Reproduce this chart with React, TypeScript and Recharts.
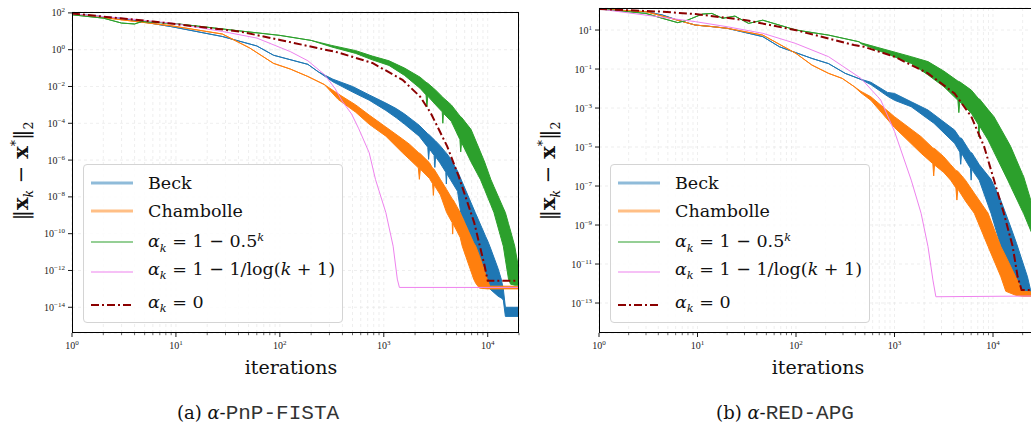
import React from 'react';
import { ComposedChart, Line, Area, XAxis, YAxis, CartesianGrid } from 'recharts';

// ---- tick values ----
const xDecades = [1, 10, 100, 1000, 10000];
const minorMult = [2, 3, 4, 5, 6, 7, 8, 9];
const yTicksLeft = [1e2, 1, 1e-2, 1e-4, 1e-6, 1e-8, 1e-10, 1e-12, 1e-14];
const yTicksRight = [1e1, 1e-1, 1e-3, 1e-5, 1e-7, 1e-9, 1e-11, 1e-13];

// ---- (a) alpha-PnP-FISTA : bands are [k, upper, lower], lines are [k, value] ----
const beckLeft = [
  [1, 89, 89], [3, 51, 51], [9, 18, 18], [28, 5.2, 5.2], [60, 1.6, 1.6], [87, 0.5, 0.5],
  [117, 0.32, 0.32], [186, 0.16, 0.16], [234, 0.063, 0.063], [324, 0.025, 0.018],
  [501, 1e-2, 5e-3], [724, 3.5e-3, 1.8e-3], [1047, 1.26e-3, 5e-4], [1318, 6.3e-4, 2e-4],
  [1585, 3.2e-4, 8.9e-5], [2188, 7.9e-5, 2e-5], [2650, 2.7e-5, 5e-6], [2700, 2.5e-5, 1.1e-6],
  [2750, 2.3e-5, 4e-6], [3050, 1.3e-5, 1.8e-6], [3100, 1.2e-5, 4e-7], [3150, 1.1e-5, 1.5e-6],
  [3467, 6.3e-6, 7.1e-7], [3950, 2.6e-6, 2.2e-7], [4000, 2.4e-6, 5e-8], [4050, 2.2e-6, 1.8e-7],
  [4365, 1.26e-6, 8.9e-8], [5129, 2.5e-7, 2e-8], [5495, 1e-7, 1.4e-9], [7586, 1.4e-9, 2.1e-11],
  [9550, 7.1e-11, 3.4e-13], [10000, 4e-11, 1.6e-13], [10471, 2.1e-11, 1e-13], [12589, 1.26e-12, 4e-14],
  [13490, 3.4e-13, 3.2e-14], [14125, 1e-13, 2.5e-14], [14791, 1e-14, 3.2e-15], [20000, 1e-14, 3.2e-15],
];
const chambLeft = [
  [1, 89, 89], [9, 20, 20], [28, 7.1, 7.1], [51, 1.26, 1.26], [87, 0.18, 0.18], [126, 0.089, 0.089],
  [186, 0.035, 0.035], [269, 0.0126, 0.0126], [363, 4e-3, 2e-3], [537, 1e-3, 4e-4],
  [724, 2.8e-4, 8.9e-5], [1047, 6.3e-5, 2e-5], [1514, 1.4e-5, 2.5e-6], [1778, 7.1e-6, 1.07e-6],
  [2150, 2.6e-6, 3.8e-7], [2200, 2.4e-6, 9e-8], [2250, 2.2e-6, 3.2e-7], [2754, 7.1e-7, 1e-7],
  [2950, 3.6e-7, 5.2e-8], [3000, 3.4e-7, 1.2e-8], [3050, 3.2e-7, 4.5e-8], [3508, 8.9e-8, 1.26e-8],
  [4027, 2.5e-8, 1.4e-9], [4550, 7.8e-9, 4e-10], [4600, 7.4e-9, 9.5e-11], [4650, 7e-9, 3.5e-10],
  [5433, 1.4e-9, 6.3e-11], [5689, 7.9e-10, 2.1e-11], [7328, 3.2e-11, 3.4e-13], [7674, 2.1e-11, 2e-13],
  [8318, 6.3e-12, 1.1e-13], [9886, 3.4e-13, 1e-13], [10471, 1.4e-13, 1e-13], [20000, 1.4e-13, 1e-13],
];
const greenLeft = [
  [1, 79, 79], [2, 52, 52], [3, 28, 28], [4, 25, 25], [4.7, 34, 34], [10, 26, 26], [41, 10.5, 10.5],
  [100, 6, 6], [200, 3.2, 3.2], [316, 1.7, 1.4], [537, 0.89, 0.63], [776, 0.45, 0.28],
  [1122, 0.25, 0.14], [1585, 0.1, 0.04], [2239, 0.032, 7.9e-3], [2550, 0.017, 3.5e-3],
  [2600, 0.016, 8e-4], [2650, 0.015, 3e-3], [3162, 6.3e-3, 1e-3], [3650, 2.8e-3, 4.2e-4],
  [3700, 2.6e-3, 1e-4], [3750, 2.4e-3, 3.5e-4], [4467, 1e-3, 1.26e-4], [5400, 2.5e-4, 1.3e-5],
  [5500, 2.3e-4, 2.8e-6], [5600, 2.1e-4, 9e-6], [6918, 4.6e-5, 7.9e-7], [8511, 2.8e-6, 8.9e-8],
  [9333, 7.9e-7, 2.5e-8], [10715, 8.9e-8, 3.7e-9], [11482, 3.6e-8, 1.4e-9], [14125, 2.5e-9, 2.1e-11],
  [14791, 1.4e-9, 4e-12], [15849, 3.5e-10, 3.4e-13], [16596, 1.4e-10, 1.8e-13], [18197, 2.1e-11, 1.6e-13],
  [20000, 1e-12, 1.6e-13],
];
const logLeft = [
  [1, 89], [3, 52], [9, 28], [28, 9.8], [60, 4.3], [126, 0.79], [186, 0.25], [269, 0.044],
  [339, 7.9e-3], [398, 1.6e-3], [490, 3.2e-4], [575, 5e-5], [724, 2.5e-6], [832, 8.9e-8],
  [1047, 1.4e-9], [1230, 2.1e-11], [1349, 3.4e-13], [1413, 1.2e-13], [20000, 1.2e-13],
];
const zeroLeft = [
  [1, 93], [6, 34], [41, 9.8], [100, 3.4], [363, 0.71], [776, 0.19], [1514, 0.023], [2239, 2.8e-3],
  [2818, 3.8e-4], [4074, 5.6e-6], [5248, 1.35e-7], [7413, 4e-10], [9333, 1.8e-12],
  [10000, 2.75e-13], [20000, 2.75e-13],
];

// ---- (b) alpha-RED-APG ----
const beckRight = [
  [1, 120, 120], [3, 87, 87], [4.4, 59, 59], [6.3, 32, 32], [9.5, 18, 18], [14, 15, 15],
  [20, 12.3, 12.3], [46, 4.6, 4.6], [68, 1.38, 1.38], [145, 0.35, 0.35], [214, 0.19, 0.19],
  [316, 0.06, 0.06], [437, 0.032, 0.032], [575, 0.021, 0.016], [851, 6.3e-3, 4e-3],
  [1000, 5.6e-3, 2.5e-3], [1479, 2.1e-3, 1.17e-3], [2188, 7.9e-4, 2.75e-4], [2512, 4.7e-4, 1.66e-4],
  [4074, 7.4e-5, 1.55e-5], [4600, 3e-5, 5.5e-6], [4700, 2.9e-5, 1.3e-6], [4800, 2.8e-5, 4.8e-6],
  [5495, 9.5e-6, 1.45e-6], [5900, 5.4e-6, 8.2e-7], [6000, 5.2e-6, 2e-7], [6100, 5e-6, 7.4e-7],
  [6457, 3.2e-6, 4.6e-7], [7244, 1.26e-6, 2e-7], [9550, 2.2e-7, 4e-9], [12023, 1.8e-8, 7.9e-11],
  [15136, 7.9e-10, 2.2e-12], [17378, 1.1e-10, 3.2e-13], [22387, 2.2e-12, 2.8e-13],
  [23988, 5e-13, 2.5e-13], [30000, 5e-13, 2.5e-13],
];
const chambRight = [
  [1, 120, 120], [3, 87, 87], [6.3, 32, 32], [9.5, 18, 18], [14, 15, 15], [20, 12.3, 12.3],
  [46, 5.5, 5.5], [100, 0.63, 0.63], [145, 0.16, 0.16], [214, 0.06, 0.06], [295, 0.033, 0.033],
  [389, 0.0126, 0.0126], [457, 7.1e-3, 6e-3], [575, 3.8e-3, 2.5e-3], [1000, 3.6e-4, 1e-4],
  [1862, 3.4e-5, 4.8e-6], [2450, 9e-6, 1.4e-6], [2500, 8.7e-6, 3.3e-7], [2550, 8.4e-6, 1.2e-6],
  [3162, 3.2e-6, 5e-7], [3715, 1.26e-6, 2e-7], [4200, 6.3e-7, 8e-8], [4300, 6e-7, 1.9e-8],
  [4400, 5.7e-7, 7e-8], [5248, 2e-7, 1.7e-8], [6457, 4.3e-8, 4e-9], [8913, 4e-9, 7.9e-11],
  [12023, 7.9e-11, 2.2e-12], [13490, 2.5e-11, 4e-13], [16982, 2.2e-12, 2.5e-13],
  [19953, 4e-13, 2.2e-13], [30000, 3.5e-13, 2.2e-13],
];
const greenRight = [
  [1, 120, 120], [3, 71, 71], [4.4, 40, 40], [6.3, 24, 24], [7.9, 32, 32], [11.2, 66, 66],
  [14, 71, 71], [18, 40, 40], [24, 52, 52], [33, 22, 22], [46, 32, 32], [100, 10, 10],
  [214, 5.5, 5.5], [437, 2.5, 2.5], [457, 2.2, 2.0], [1479, 0.43, 0.195], [2188, 0.24, 0.05],
  [3162, 0.079, 0.0126], [4400, 0.024, 2.5e-3], [4500, 0.023, 5.8e-4], [4600, 0.022, 2.1e-3],
  [6026, 8.3e-3, 5.4e-4], [7100, 3.1e-3, 1.4e-4], [7200, 3e-3, 3.3e-5], [7300, 2.9e-3, 1.2e-4],
  [8913, 8.3e-4, 2.3e-5], [10233, 3.6e-4, 5.5e-6], [14125, 2e-5, 2e-7], [15136, 1.05e-5, 9.5e-8],
  [19953, 4e-7, 5e-9], [20417, 3.2e-7, 4e-9], [25119, 1e-8, 3.2e-10], [30000, 5e-10, 1.6e-11],
];
const logRight = [
  [1, 120], [9.5, 27], [20, 14.8], [46, 6.8], [98, 2.1], [214, 0.43], [457, 0.033], [676, 3.8e-3],
  [724, 2.6e-3], [1000, 6.3e-5], [1479, 2e-7], [1862, 4e-9], [2188, 7.9e-11], [2455, 1.5e-12],
  [2630, 2.1e-13], [30000, 2.3e-13],
];
const zeroRight = [
  [1, 120], [4.4, 87], [9.5, 66], [31, 32], [98, 10], [389, 1.7], [490, 1.38], [1000, 0.43],
  [2188, 0.06], [4074, 5.6e-3], [6026, 3.6e-4], [8128, 1.05e-5], [10000, 3e-7], [12882, 4e-9],
  [15849, 7.9e-11], [17783, 2.2e-12], [19498, 4.7e-13], [30000, 4.7e-13],
];

const BLUE = '#1f77b4';
const ORANGE = '#ff7f0e';
const GREEN = '#2ca02c';
const PINK = '#ee82ee';
const DARKRED = '#8b0000';
const SERIF = '"DejaVu Serif", serif';

const band = (rows: number[][]) => rows.map(([k, hi, lo]) => ({ k, hi, lo }));
const line = (rows: number[][]) => rows.map(([k, v]) => ({ k, v }));
const range = (d: any) => [d.lo, d.hi];

const supExp = (v: number) => {
  const e = Math.round(Math.log10(v));
  return e < 0 ? `\u2212${-e}` : `${e}`;
};
const isDecade = (v: number) => Math.abs(Math.log10(v) - Math.round(Math.log10(v))) < 1e-9;

const XTick = (props: any) => {
  const { x, y, payload } = props;
  const major = isDecade(payload.value);
  return (
    <g>
      <line x1={x} x2={x} y1={y} y2={y + (major ? 4 : 2.2)} stroke="#000" strokeWidth={major ? 0.9 : 0.6} />
      {major && (
        <text x={x} y={y + 16} textAnchor="middle" fontFamily='"Liberation Serif", serif' fontSize={10} fill="#222">
          10<tspan dy={-4} fontSize={7}>{supExp(payload.value)}</tspan>
        </text>
      )}
    </g>
  );
};

const YTick = (props: any) => {
  const { x, y, payload } = props;
  return (
    <g>
      <line x1={x - 4} x2={x} y1={y} y2={y} stroke="#000" strokeWidth={0.9} />
      <text x={x - 7} y={y + 3.5} textAnchor="end" fontFamily='"Liberation Serif", serif' fontSize={10} fill="#222">
        10<tspan dy={-4} fontSize={7}>{supExp(payload.value)}</tspan>
      </text>
    </g>
  );
};

const LegendBox = ({ left }: { left: number }) => {
  const rows = [
    { y: 18, color: '#8fbbd9', w: 3, dash: undefined, label: <span>Beck</span> },
    { y: 46, color: '#ffbf86', w: 3, dash: undefined, label: <span>Chambolle</span> },
    {
      y: 77, color: GREEN, w: 1.2, dash: undefined,
      label: <span><i>α</i><sub style={{ fontSize: '0.65em' }}><i>k</i></sub> = 1 − 0.5<sup style={{ fontSize: '0.65em' }}><i>k</i></sup></span>,
    },
    {
      y: 107, color: PINK, w: 1.2, dash: undefined,
      label: <span><i>α</i><sub style={{ fontSize: '0.65em' }}><i>k</i></sub> = 1 − 1/log(<i>k</i> + 1)</span>,
    },
    {
      y: 140, color: DARKRED, w: 2, dash: '8 3 2 3',
      label: <span><i>α</i><sub style={{ fontSize: '0.65em' }}><i>k</i></sub> = 0</span>,
    },
  ];
  return (
    <div style={{
      position: 'absolute', left, top: 164, width: 260, height: 159, boxSizing: 'border-box',
      border: '1px solid #d4d4d4', borderRadius: 4, background: 'rgba(255,255,255,0.85)',
    }}>
      {rows.map((r, i) => (
        <div key={i} style={{ position: 'absolute', left: 0, top: r.y, width: 258, height: 0 }}>
          <svg width={44} height={6} style={{ position: 'absolute', left: 6, top: -3 }}>
            <line x1={1} x2={43} y1={3} y2={3} stroke={r.color} strokeWidth={r.w} strokeDasharray={r.dash} />
          </svg>
          <div style={{
            position: 'absolute', left: 64, top: 0, transform: 'translateY(-50%)', whiteSpace: 'nowrap',
            fontFamily: SERIF, fontSize: 17.5, color: '#111', lineHeight: '22px',
          }}>{r.label}</div>
        </div>
      ))}
    </div>
  );
};

type PanelProps = {
  left: number;
  width: number;
  yAxisWidth: number;
  top: number;
  xMax: number;
  yDomain: [number, number];
  yTicks: number[];
  beck: number[][];
  chamb: number[][];
  green: number[][];
  log: number[][];
  zero: number[][];
};

const Panel = (p: PanelProps) => {
  const xTicks: number[] = [];
  xDecades.forEach((d) => {
    xTicks.push(d);
    minorMult.forEach((m) => {
      if (d * m <= p.xMax) xTicks.push(d * m);
    });
  });
  const plotW = p.width - p.yAxisWidth - 1;
  return (
    <div style={{ position: 'absolute', left: p.left, top: 0 }}>
      <ComposedChart width={p.width} height={428} margin={{ top: p.top, right: 1, bottom: 65, left: 0 }}>
        <CartesianGrid stroke="#e6e6e6" strokeDasharray="3 3" strokeWidth={0.7} />
        <XAxis
          type="number" dataKey="k" scale="log" domain={[1, p.xMax]} allowDataOverflow
          ticks={xTicks} interval={0} tickSize={0} tickMargin={0} axisLine={false} height={30}
          tick={(t: any) => <XTick {...t} />}
        />
        <YAxis
          type="number" scale="log" domain={p.yDomain} allowDataOverflow width={p.yAxisWidth}
          ticks={p.yTicks} interval={0} tickSize={0} tickMargin={0} axisLine={false}
          tick={(t: any) => <YTick {...t} />}
        />
        <Area data={band(p.beck)} dataKey={range} type="linear" stroke={BLUE} strokeWidth={1} fill={BLUE} fillOpacity={1} isAnimationActive={false} dot={false} activeDot={false} />
        <Area data={band(p.chamb)} dataKey={range} type="linear" stroke={ORANGE} strokeWidth={1} fill={ORANGE} fillOpacity={1} isAnimationActive={false} dot={false} activeDot={false} />
        <Area data={band(p.green)} dataKey={range} type="linear" stroke={GREEN} strokeWidth={1} fill={GREEN} fillOpacity={1} isAnimationActive={false} dot={false} activeDot={false} />
        <Line data={line(p.log)} dataKey="v" type="linear" stroke={PINK} strokeWidth={1} dot={false} activeDot={false} isAnimationActive={false} />
        <Line data={line(p.zero)} dataKey="v" type="linear" stroke={DARKRED} strokeWidth={2} strokeDasharray="8 3 2 3" dot={false} activeDot={false} isAnimationActive={false} />
      </ComposedChart>
      <div style={{
        position: 'absolute', left: p.yAxisWidth, top: p.top, width: plotW, height: 333 - p.top,
        border: '1px solid #000', boxSizing: 'border-box', pointerEvents: 'none',
      }} />
    </div>
  );
};

const YLabel = ({ cx }: { cx: number }) => (
  <div style={{
    position: 'absolute', left: cx, top: 171, transform: 'translate(-50%, -50%) rotate(-90deg)',
    whiteSpace: 'nowrap', fontFamily: SERIF, fontSize: 21, color: '#111',
  }}>
    ‖<b>x</b><sub style={{ fontSize: '0.6em' }}><i>k</i></sub> − <b>x</b><sup style={{ fontSize: '0.6em' }}>*</sup>‖<sub style={{ fontSize: '0.6em' }}>2</sub>
  </div>
);

const CenterText = ({ cx, cy, children }: { cx: number; cy: number; children: React.ReactNode }) => (
  <div style={{
    position: 'absolute', left: cx, top: cy, transform: 'translate(-50%, -50%)', whiteSpace: 'nowrap',
    fontFamily: SERIF, color: '#111',
  }}>{children}</div>
);

const MONO = { fontFamily: '"Liberation Mono", monospace', fontSize: 21, color: '#333' };

export default function App() {
  return (
    <div style={{ position: 'absolute', left: 0, top: 0, width: 1031, height: 428, overflow: 'hidden', background: '#fff' }}>
      <Panel
        left={0} width={520} yAxisWidth={72} top={12} xMax={20000}
        yDomain={[4e-16, 112]} yTicks={yTicksLeft}
        beck={beckLeft} chamb={chambLeft} green={greenLeft} log={logLeft} zero={zeroLeft}
      />
      <Panel
        left={520} width={521} yAxisWidth={79} top={8} xMax={30000}
        yDomain={[2.9e-15, 135]} yTicks={yTicksRight}
        beck={beckRight} chamb={chambRight} green={greenRight} log={logRight} zero={zeroRight}
      />
      <LegendBox left={83} />
      <LegendBox left={610} />
      <YLabel cx={22} />
      <YLabel cx={549} />
      <CenterText cx={291} cy={367}><span style={{ fontSize: 19 }}>iterations</span></CenterText>
      <CenterText cx={818} cy={367}><span style={{ fontSize: 19 }}>iterations</span></CenterText>
      <CenterText cx={258} cy={413}>
        <span style={{ fontSize: 18 }}>(a) <i>α</i>-</span><span style={MONO}>PnP-FISTA</span>
      </CenterText>
      <CenterText cx={785} cy={413}>
        <span style={{ fontSize: 18 }}>(b) <i>α</i>-</span><span style={MONO}>RED-APG</span>
      </CenterText>
    </div>
  );
}
